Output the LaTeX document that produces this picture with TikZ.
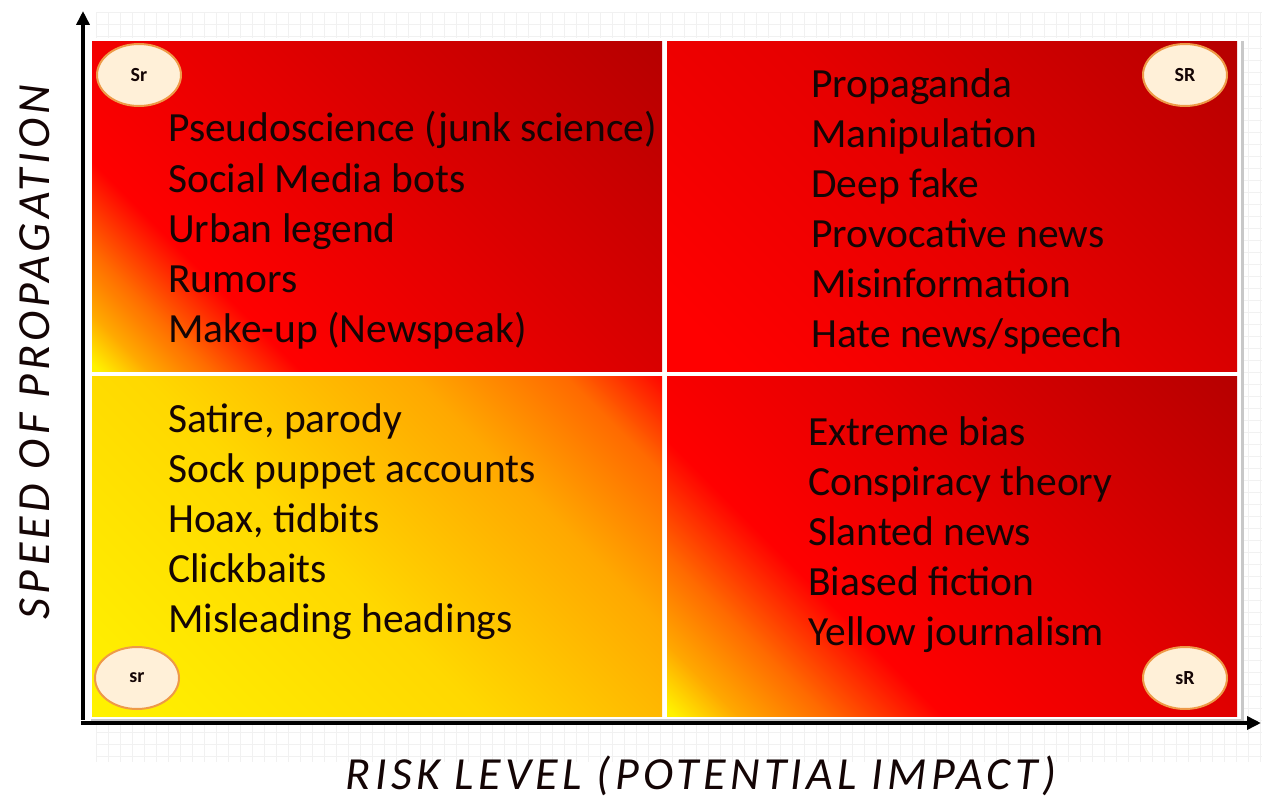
\documentclass[tikz,border=0pt]{standalone}
\usepackage{fontspec}
\setmainfont{Carlito}
\usetikzlibrary{shapes.geometric}
\usetikzlibrary{arrows.meta}
\definecolor{color_text}{HTML}{140505}
\definecolor{color_bg_grid}{HTML}{F1F1F1}
\definecolor{color_frame}{HTML}{C8C8C8}
\definecolor{color_yellow}{HTML}{FFF200}
\definecolor{color_gold}{HTML}{FFD800}
\definecolor{color_amber}{HTML}{FFA800}
\definecolor{color_orange}{HTML}{FF6A00}
\definecolor{color_red}{HTML}{FF0000}
\definecolor{color_mid_red}{HTML}{E60000}
\definecolor{color_dark_red}{HTML}{B50000}
\definecolor{color_tag_fill}{HTML}{FFF0D8}
\definecolor{color_tag_border}{HTML}{EE9A48}
% shadings run from the lower left corner (14.6bp) to the upper right corner (85.4bp)
\pgfdeclarehorizontalshading{shade_sr_high}{100bp}{color(0bp)=(color_yellow); color(15bp)=(color_yellow);
    color(19bp)=(color_amber); color(24bp)=(color_orange); color(31bp)=(color_red);
    color(50bp)=(color_mid_red); color(86bp)=(color_dark_red); color(100bp)=(color_dark_red)}
\pgfdeclarehorizontalshading{shade_SR_high}{100bp}{color(0bp)=(color_red); color(20bp)=(color_red);
    color(50bp)=(color_mid_red); color(86bp)=(color_dark_red); color(100bp)=(color_dark_red)}
\pgfdeclarehorizontalshading{shade_sr_low}{100bp}{color(0bp)=(color_yellow); color(15bp)=(color_yellow);
    color(45bp)=(color_gold); color(66bp)=(color_amber); color(78bp)=(color_orange); color(86bp)=(color_red); color(100bp)=(color_red)}
\pgfdeclarehorizontalshading{shade_SR_low}{100bp}{color(0bp)=(color_yellow); color(15bp)=(color_yellow);
    color(20bp)=(color_amber); color(27bp)=(color_orange); color(36bp)=(color_red);
    color(55bp)=(color_mid_red); color(86bp)=(color_dark_red); color(100bp)=(color_dark_red)}
\def\quadrant[#1](#2,#3,#4,#5){
    \shade[shading=#1,shading angle=45] (#2,#3) rectangle (#4,#5);
}
\def\axislinewidth{4pt}
\def\listsize{\fontsize{41.5}{48}\selectfont}
\def\axislabelsize{\fontsize{46}{52}\selectfont\addfontfeature{LetterSpace=9.5}}
\def\tagsize{\fontsize{20}{22}\selectfont}

\begin{document}
\begin{tikzpicture}[x=1pt,y=-1pt,
        listitem/.style={anchor=base west,inner sep=0pt,text=color_text,font=\listsize},
        tag/.style={ellipse,draw=color_tag_border,line width=2pt,fill=color_tag_fill,
            minimum width=84pt,minimum height=62pt,inner sep=0pt,font=\tagsize\bfseries,text=color_text},
        axislabel/.style={inner sep=0pt,text=color_text,font=\itshape\axislabelsize}]
        \useasboundingbox (0,0) rectangle (1262,800);
        % faint background grid
        \foreach \x in {96,108,...,1260}
            \draw[color_bg_grid,line width=0.5pt] (\x,12) -- (\x,762);
        \foreach \y in {12,24,...,762}
            \draw[color_bg_grid,line width=0.5pt] (96,\y) -- (1262,\y);
        % frame with its shadow
        \fill[color_frame] (91,41) rectangle (1244,722);
        \fill[white] (88,38) rectangle (1241,719);
        % the four quadrants
        \quadrant[shade_sr_high](92,42,662,371)
        \quadrant[shade_SR_high](667,42,1237,371)
        \quadrant[shade_sr_low](92,376,662,716)
        \quadrant[shade_SR_low](667,376,1237,716)
        % axes
        \coordinate (origin) at (83,723);
        \coordinate (ytip) at (83,11);
        \coordinate (xtip) at (1261,723);
        \draw[line width=\axislinewidth,-{Triangle[length=14pt,width=13pt]}] ([yshift=3]origin) -- (ytip);
        \draw[line width=\axislinewidth,-{Triangle[length=14pt,width=13pt]}] ([xshift=-2]origin) -- (xtip);
        \node[axislabel,rotate=90] (ylabel) at (35,352) {SPEED OF PROPAGATION};
        \node[axislabel] (xlabel) at (701,776) {RISK LEVEL (POTENTIAL IMPACT)};
        % corner tags
        \node[tag] (tagSr) at (139,75) {Sr};
        \node[tag] (tagSR) at (1185,75) {SR};
        \node[tag] (tagsr) at (137,678) {sr};
        \node[tag] (tagsR) at (1185,678) {sR};
        % lists
        \foreach \txt [count=\i] in {Pseudoscience (junk science),Social Media bots,Urban legend,Rumors,Make-up (Newspeak)}
            \node[listitem] (hl\i) at (168,92+50*\i) {\txt};
        \foreach \txt [count=\i] in {Propaganda,Manipulation,Deep fake,Provocative news,Misinformation,Hate news/speech}
            \node[listitem] (hh\i) at (811,47+50*\i) {\txt};
        \foreach \txt [count=\i] in {{Satire, parody},Sock puppet accounts,{Hoax, tidbits},Clickbaits,Misleading headings}
            \node[listitem] (ll\i) at (168,382+50*\i) {\txt};
        \foreach \txt [count=\i] in {Extreme bias,Conspiracy theory,Slanted news,Biased fiction,Yellow journalism}
            \node[listitem] (lh\i) at (808,395+50*\i) {\txt};
    \end{tikzpicture}
\end{document}
